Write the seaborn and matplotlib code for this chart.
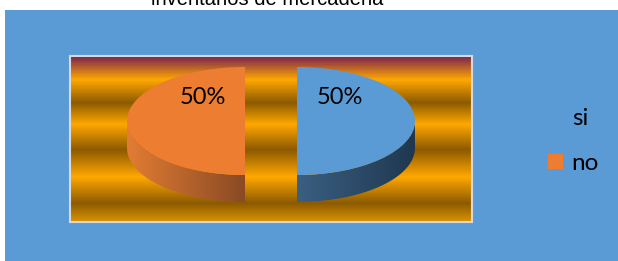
import numpy as np
import matplotlib
matplotlib.use("Agg")
import matplotlib.pyplot as plt
import seaborn as sns
from matplotlib.colors import LinearSegmentedColormap
from matplotlib.patches import Polygon

sns.set_theme(style="white")
plt.rcParams["font.family"] = ["Lato", "DejaVu Sans"]
plt.rcParams["text.color"] = "black"

# data
labels = ["si", "no"]
values = [50, 50]
colors = ["#5B9BD5", "#ED7D31"]
wall_colors = [["#3A5F82", "#1F3850"], ["#E27C33", "#8A4A24"]]
title = "inventarios de mercadeña"

W, H = 618, 261
fig = plt.figure(figsize=(W / 100, H / 100), dpi=100)
fig.patch.set_facecolor("white")

# blue chart area
bg = fig.add_axes([5 / W, 0, 1 - 5 / W, (H - 10) / H])
bg.set_facecolor("#5B9BD5")
bg.set_xticks([])
bg.set_yticks([])
for s in bg.spines.values():
    s.set_visible(False)

# striped plot area
stops = [(0.0, "#7A2450"), (0.14, "#FFA800"), (0.28, "#8C5A00"), (0.41, "#FFA800"),
         (0.565, "#8C5A00"), (0.73, "#FFA800"), (0.89, "#8C5A00"), (1.0, "#D99200")]
stripes = LinearSegmentedColormap.from_list("stripes", stops)
pa = fig.add_axes([70 / W, 1 - 222 / H, 402 / W, 166 / H])
pa.imshow(np.linspace(0, 1, 300).reshape(-1, 1), aspect="auto", cmap=stripes)
pa.set_xticks([])
pa.set_yticks([])
for s in pa.spines.values():
    s.set_color("#D9D9D9")
    s.set_linewidth(1.5)

# pie (elliptical, with a side wall)
cx, cy, rx, ry, depth = 271, 121, 118, 54, 27
ax = fig.add_axes([0, 0, 1, 1])
ax.patch.set_alpha(0)
wedges, _ = ax.pie(values, colors=colors, startangle=90, counterclock=False,
                   explode=[0.22, 0.22], wedgeprops={"linewidth": 0})
d = depth / ry
for w, wc in zip(wedges, wall_colors):
    x0, y0 = w.center
    t = np.radians(np.linspace(w.theta1, w.theta2, 400))
    t = t[np.sin(t) <= 1e-9]
    top = np.column_stack([x0 + w.r * np.cos(t), y0 + w.r * np.sin(t)])
    bot = top[::-1] - [0, d]
    poly = Polygon(np.vstack([top, bot]), closed=True, facecolor="none", edgecolor="none")
    ax.add_patch(poly)
    cm = LinearSegmentedColormap.from_list("wall", wc)
    im = ax.imshow(np.linspace(0, 1, 100).reshape(1, -1), cmap=cm, aspect="auto",
                   extent=[top[:, 0].min(), top[:, 0].max(), y0 - w.r - d, y0], zorder=0.5)
    im.set_clip_path(poly)

total = sum(values)
for w, v in zip(wedges, values):
    x0, y0 = w.center
    side = 1 if x0 > 0 else -1
    ax.text(x0 + side * 0.36, 0.43, f"{v / total * 100:.0f}%", ha="center", va="center",
            fontsize=17, color="black")

ax.set_aspect("auto")
ax.set_xlim(-cx / rx, (W - cx) / rx)
ax.set_ylim((cy - H) / ry, cy / ry)
ax.axis("off")

fig.legend(wedges, labels, loc="center left", bbox_to_anchor=(536 / W, 1 - 141 / H),
           frameon=False, fontsize=17.5, handlelength=0.62, handleheight=0.62,
           handletextpad=0.35, labelspacing=1.0, borderpad=0, labelcolor="black")

fig.text(267.5 / W, 1 - 5 / H, title, ha="center", va="baseline", fontsize=14.5,
         color="black", family=["Liberation Sans", "DejaVu Sans"])

fig.savefig("out.png", dpi=100)
